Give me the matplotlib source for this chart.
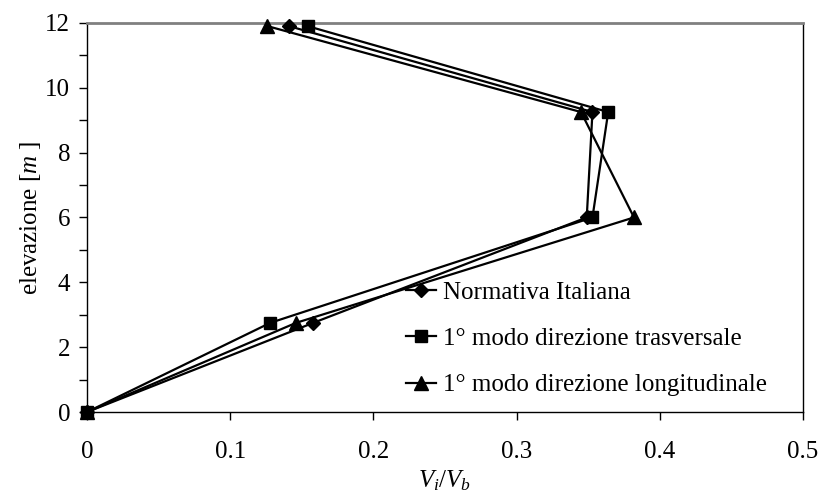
import matplotlib
matplotlib.use("Agg")
import matplotlib.pyplot as plt
from matplotlib.ticker import MultipleLocator

# dati
elev = [0.0, 2.75, 6.0, 9.25, 11.9]
v_normativa = [0.0, 0.158, 0.349, 0.353, 0.141]
v_trasv = [0.0, 0.128, 0.353, 0.364, 0.154]
v_long = [0.0, 0.146, 0.382, 0.345, 0.126]

labels = ["Normativa Italiana",
          "1° modo direzione trasversale",
          "1° modo direzione longitudinale"]

plt.rcParams["font.family"] = ["Liberation Serif", "DejaVu Serif"]
plt.rcParams["mathtext.fontset"] = "custom"
plt.rcParams["mathtext.rm"] = "Liberation Serif"
plt.rcParams["mathtext.it"] = "Liberation Serif:italic"
FS = 18

fig = plt.figure(figsize=(8.21, 4.97), dpi=100)
ax = fig.add_axes([0.106, 0.171, 0.872, 0.783])

ax.plot(v_normativa, elev, color="black", lw=1.6, marker="D", ms=7,
        label=labels[0], clip_on=False, zorder=3)
ax.plot(v_trasv, elev, color="black", lw=1.6, marker="s", ms=9,
        label=labels[1], clip_on=False, zorder=3)
ax.plot(v_long, elev, color="black", lw=1.6, marker="^", ms=9.5,
        label=labels[2], clip_on=False, zorder=3)

ax.set_xlim(0, 0.5)
ax.set_ylim(0, 12)
ax.xaxis.set_major_locator(MultipleLocator(0.1))
ax.yaxis.set_major_locator(MultipleLocator(2))
ax.yaxis.set_minor_locator(MultipleLocator(1))
ax.xaxis.set_major_formatter(matplotlib.ticker.FuncFormatter(lambda v, p: f"{v:g}"))
ax.tick_params(axis="both", which="major", direction="out", length=6, width=1,
               labelsize=FS, pad=6)
ax.tick_params(axis="y", which="minor", direction="out", length=6, width=1)
ax.tick_params(axis="x", pad=15)

for s in ["left", "bottom", "right"]:
    ax.spines[s].set_color("black")
    ax.spines[s].set_linewidth(1)
ax.spines["top"].set_color("#808080")
ax.spines["top"].set_linewidth(2)

ax.set_ylabel("elevazione [$m$ ]", fontsize=FS, labelpad=2)
ax.set_xlabel("$V_i/V_b$", fontsize=FS, labelpad=4)

ax.legend(loc="lower left", bbox_to_anchor=(0.445, 0.04), frameon=False,
          fontsize=FS, handlelength=1.2, handletextpad=0.3, labelspacing=0.95,
          borderpad=0, borderaxespad=0)

fig.savefig("out.png", dpi=100)
